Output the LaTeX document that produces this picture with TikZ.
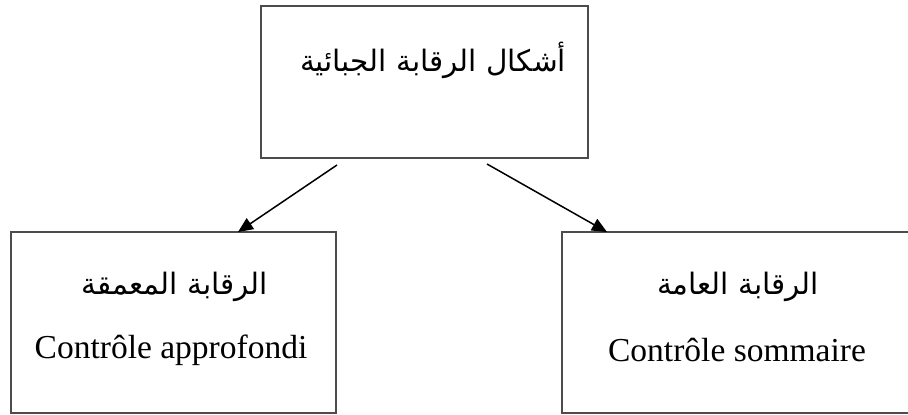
\documentclass[tikz,border=0pt]{standalone}
\usepackage{fontspec}
\setmainfont{Liberation Serif}
\newfontfamily\arabicfont[Script=Arabic]{DejaVu Sans}
\TeXXeTstate=1
\usetikzlibrary{arrows.meta}
\begin{document}
\begin{tikzpicture}[x=1pt,y=-1pt,
  boxstyle/.style={draw=black!70,line width=1.6pt,inner sep=0pt,outer sep=0pt},
  artext/.style={inner sep=0pt,font=\arabicfont\fontsize{29.5}{34}\selectfont},
  lattext/.style={inner sep=0pt,font=\fontsize{33.5}{40}\selectfont},
  link/.style={line width=1.5pt,black,-{Triangle[length=15pt,width=13pt]}}]
\useasboundingbox (0,0) rectangle (908,415);
\fill[white] (0,0) rectangle (908,415);
\node[boxstyle,minimum width=327pt,minimum height=152pt] (top) at (424.5,82) {};
\node[boxstyle,minimum width=325pt,minimum height=181pt] (left) at (173.5,322.5) {};
\node[boxstyle,minimum width=350pt,minimum height=181pt] (right) at (737,322.5) {};
\node[artext] (ttop) at (433,60) {\beginR أشكال الرقابة الجبائية\endR};
\node[artext] (tleft) at (175,287) {\beginR الرقابة المعمقة\endR};
\node[lattext] (eleft) at (171,350) {Contrôle approfondi};
\node[artext] (tright) at (738,287) {\beginR الرقابة العامة\endR};
\node[lattext] (eright) at (737,350) {Contrôle sommaire};
\coordinate (s1) at ([xshift=-87.5pt,yshift=-7pt]top.south);
\coordinate (s2) at ([xshift=62.5pt,yshift=-6pt]top.south);
\coordinate (t1) at ([xshift=64.5pt]left.north);
\coordinate (t2) at ([xshift=-130pt]right.north);
\draw[link] (s1) -- (t1);
\draw[link] (s2) -- (t2);
\end{tikzpicture}
\end{document}
